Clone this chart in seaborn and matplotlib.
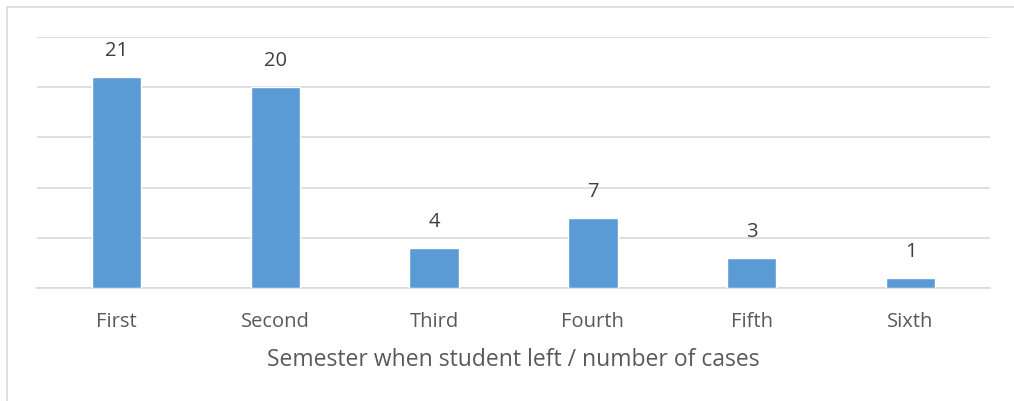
import matplotlib
matplotlib.use("Agg")
import matplotlib.pyplot as plt
import seaborn as sns
import pandas as pd
from matplotlib.lines import Line2D

semesters = ["First", "Second", "Third", "Fourth", "Fifth", "Sixth"]
cases = [21, 20, 4, 7, 3, 1]
y_ticks = [0, 5, 10, 15, 20, 25]

df = pd.DataFrame({"semester": semesters, "cases": cases})

sns.set_theme(style="white")
plt.rcParams["font.family"] = ["Open Sans", "DejaVu Sans"]

text_color = "#595959"
fig = plt.figure(figsize=(10.14, 4.01), dpi=100)
ax = fig.add_axes([0.0365, 0.2818, 0.9398, 0.6259])

sns.barplot(data=df, x="semester", y="cases", color="#5b9bd5", width=0.31,
            saturation=1, ax=ax, zorder=3)

ax.set_ylim(0, 25)
ax.set_yticks(y_ticks)
ax.yaxis.grid(True, color="#d9d9d9", linewidth=1.2, zorder=0)
ax.tick_params(axis="y", left=False, labelleft=False)
ax.tick_params(axis="x", bottom=False, colors=text_color, labelsize=14.5, pad=11)
for lbl in ax.get_xticklabels():
    lbl.set_color(text_color)
for side in ["top", "right", "left"]:
    ax.spines[side].set_visible(False)
ax.spines["bottom"].set_color("#d9d9d9")
ax.spines["bottom"].set_linewidth(1.2)

ax.set_xlabel("Semester when student left / number of cases", fontsize=16.5,
              color=text_color, labelpad=11.5)
ax.set_ylabel("")

for container in ax.containers:
    ax.bar_label(container, labels=[str(v) for v in cases], padding=11.5,
                 fontsize=14.5, color="#404040")

# chart frame: left and top edges
fx, fy = 6.5 / 1014, 1 - 6.5 / 401
fig.add_artist(Line2D([fx, fx], [0, fy], transform=fig.transFigure,
                      color="#d9d9d9", linewidth=1.2))
fig.add_artist(Line2D([fx, 1], [fy, fy], transform=fig.transFigure,
                      color="#d9d9d9", linewidth=1.2))

fig.savefig("out.png", dpi=100)
